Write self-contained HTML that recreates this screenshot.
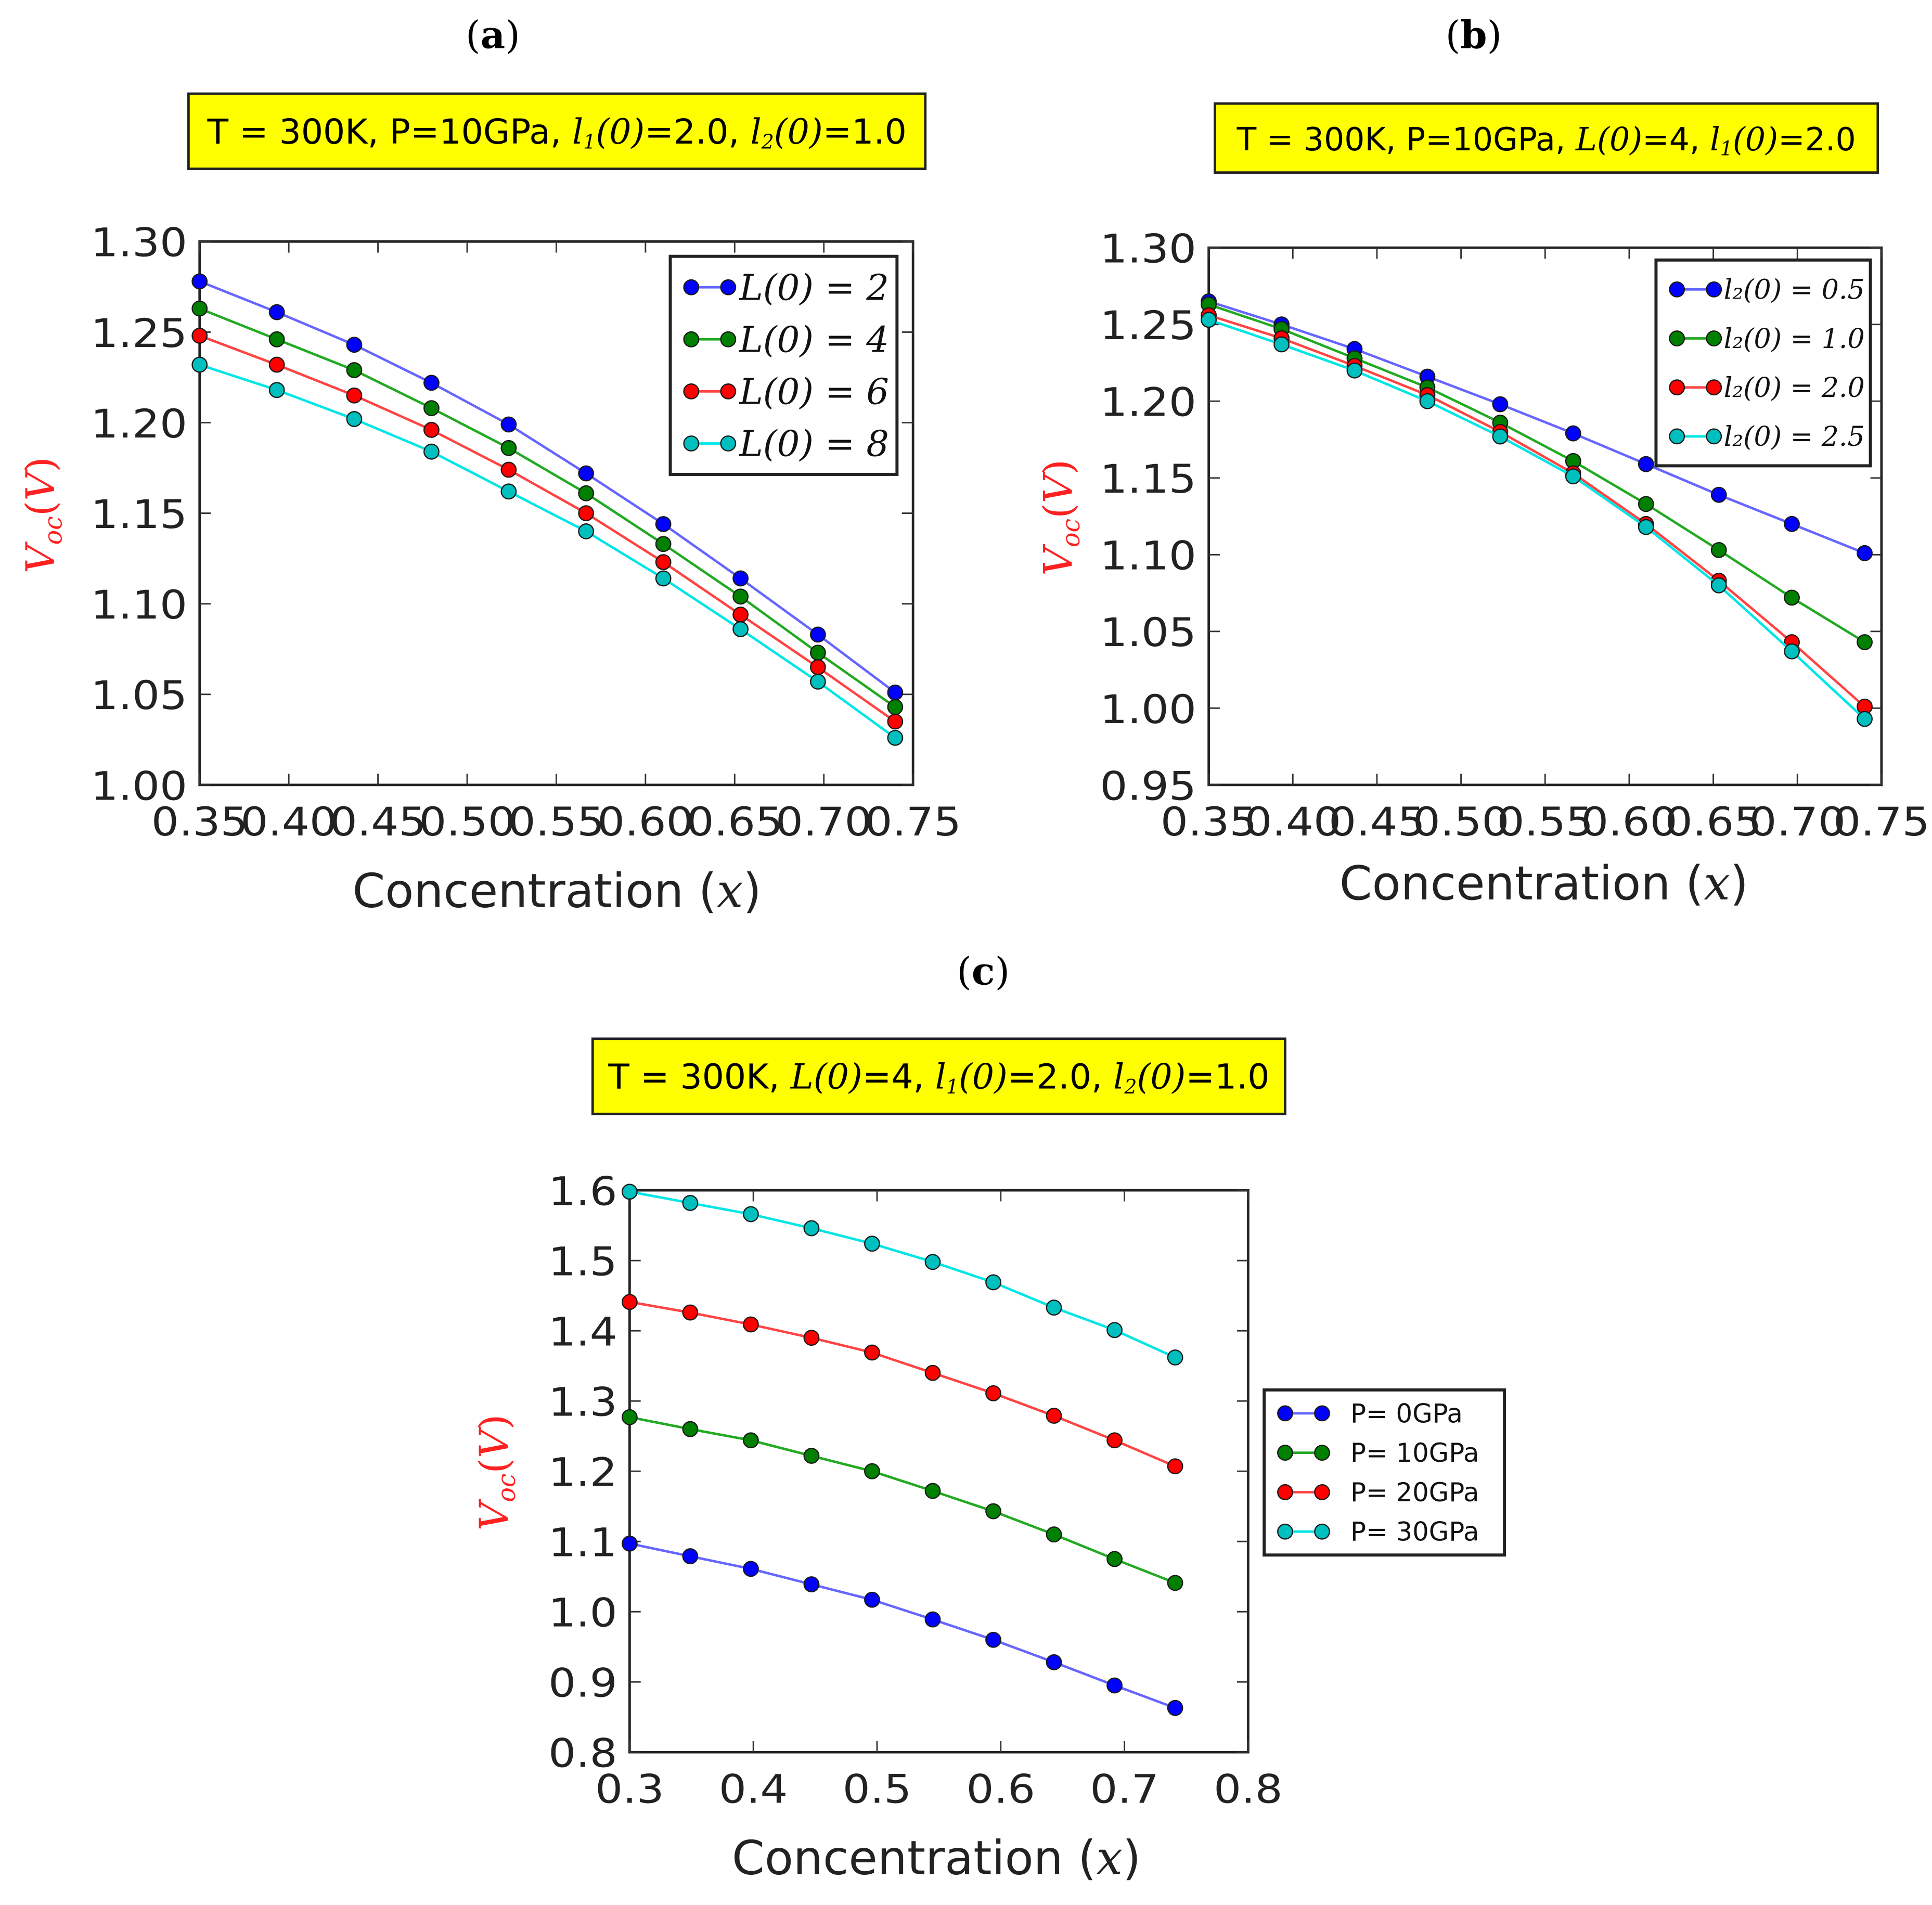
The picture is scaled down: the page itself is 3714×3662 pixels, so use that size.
<!DOCTYPE html>
<html><head><meta charset="utf-8">
<style>
html,body{margin:0;padding:0;background:#fff;}
svg{display:block;}
text{font-family:"DejaVu Sans","Liberation Sans",sans-serif;}
.serif{font-family:"DejaVu Serif","Liberation Serif",serif;}
</style></head>
<body>
<svg id="fig" width="3714" height="3662" viewBox="0 0 1568 1546" xmlns="http://www.w3.org/2000/svg">
<rect width="1568" height="1546" fill="#fff"/>
</svg>
<script>
// Panel (a)
const aX = [0.35,0.3933,0.4367,0.48,0.5233,0.5667,0.61,0.6533,0.6967,0.74];
const aL2 = [1.278,1.261,1.243,1.222,1.199,1.172,1.144,1.114,1.083,1.051];
const aL4 = [1.263,1.246,1.229,1.208,1.186,1.161,1.133,1.104,1.073,1.043];
const aL6 = [1.248,1.232,1.215,1.196,1.174,1.150,1.123,1.094,1.065,1.035];
const aL8 = [1.232,1.218,1.202,1.184,1.162,1.140,1.114,1.086,1.057,1.026];
const aYTicks = ["1.00","1.05","1.10","1.15","1.20","1.25","1.30"];
const aXTicks = ["0.35","0.40","0.45","0.50","0.55","0.60","0.65","0.70","0.75"];
const aLegend = ["L(0)  =  2","L(0)  =  4","L(0) = 6","L(0) = 8"];
// Panel (b)
const bX = aX;
const bL05 = [1.265,1.250,1.234,1.216,1.198,1.179,1.159,1.139,1.120,1.101];
const bL10 = [1.263,1.247,1.228,1.209,1.186,1.161,1.133,1.103,1.072,1.043];
const bL20 = [1.256,1.241,1.223,1.204,1.180,1.153,1.120,1.083,1.043,1.001];
const bL25 = [1.253,1.237,1.220,1.200,1.177,1.151,1.118,1.080,1.037,0.993];
const bYTicks = ["0.95","1.00","1.05","1.10","1.15","1.20","1.25","1.30"];
const bXTicks = aXTicks;
const bLegend = ["l\u2082(0)  =  0.5","l\u2082(0)  =  1.0","l\u2082(0) = 2.0","l\u2082(0) = 2.5"];
// Panel (c)
const cX = [0.3,0.349,0.398,0.447,0.496,0.545,0.594,0.643,0.692,0.741];
const cP0 = [1.097,1.079,1.061,1.039,1.017,0.989,0.960,0.928,0.895,0.863];
const cP10 = [1.277,1.260,1.244,1.222,1.200,1.172,1.143,1.110,1.075,1.041];
const cP20 = [1.441,1.426,1.409,1.390,1.369,1.340,1.311,1.279,1.244,1.207];
const cP30 = [1.598,1.582,1.566,1.546,1.524,1.498,1.469,1.433,1.401,1.362];
const cYTicks = ["0.8","0.9","1.0","1.1","1.2","1.3","1.4","1.5","1.6"];
const cXTicks = ["0.3","0.4","0.5","0.6","0.7","0.8"];
const cLegend = ["P= 0GPa","P= 10GPa","P= 20GPa","P= 30GPa"];

const COLORS = ["#0000ff","#008000","#ff0000","#00bfbf"];
const LINECOL = ["#6666ff","#22aa22","#ff4444","#00e5e5"];
const NS = "http://www.w3.org/2000/svg";
const fig = document.getElementById("fig");
function mk(tag, attrs, parent, txt){
  const e = document.createElementNS(NS, tag);
  for (const k in attrs) e.setAttribute(k, attrs[k]);
  if (txt !== undefined) e.textContent = txt;
  (parent||fig).appendChild(e);
  return e;
}
function panel(p){
  const g = mk("g", {});
  
  
  const sx = v => p.L + (v - p.x0) / (p.x1 - p.x0) * (p.R - p.L);
  const sy = v => p.B - (v - p.y0) / (p.y1 - p.y0) * (p.B - p.T);
  const lt = mk("text", {x:p.letterX, y:p.letterY, "font-size":31, "text-anchor":"middle", class:"serif"}, g);
  
  
  lt.innerHTML = '(<tspan font-weight="bold">' + p.letter + '</tspan>)';
  const tb = mk("rect", {x:p.tb[0], y:p.tb[1], width:p.tb[2]-p.tb[0], height:p.tb[3]-p.tb[1], fill:"#ffff00", stroke:"#222", "stroke-width":2}, g);
  
  
  const tt = mk("text", {x:(p.tb[0]+p.tb[2])/2, y:(p.tb[1]+p.tb[3])/2+10, "font-size":p.titleFont, "text-anchor":"middle"}, g);
  
  
  tt.innerHTML = p.title;
  const fr = mk("rect", {x:p.L, y:p.T, width:p.R-p.L, height:p.B-p.T, fill:"none", stroke:"#222", "stroke-width":2}, g);
  
  
  p.yTicks.forEach(t => {
    const y = sy(parseFloat(t));
    mk("line", {x1:p.L, x2:p.L+9, y1:y, y2:y, stroke:"#333", "stroke-width":1.2}, g);
    mk("line", {x1:p.R, x2:p.R-9, y1:y, y2:y, stroke:"#333", "stroke-width":1.2}, g);
    const tx = mk("text", {x:0, y:0, "font-size":32, "text-anchor":"end", fill:"#222", transform:"translate("+(p.L-10)+","+(y+12)+") scale(1.1,1)"}, g, t);
    
    
  });
  p.xTicks.forEach(t => {
    const x = sx(parseFloat(t));
    mk("line", {x1:x, x2:x, y1:p.B, y2:p.B-9, stroke:"#333", "stroke-width":1.2}, g);
    mk("line", {x1:x, x2:x, y1:p.T, y2:p.T+9, stroke:"#333", "stroke-width":1.2}, g);
    const tx = mk("text", {x:0, y:0, "font-size":32, "text-anchor":"middle", fill:"#222", transform:"translate("+x+","+(p.B+41)+") scale(1.1,1)"}, g, t);
    
    
  });
  const xt = mk("text", {x:p.xlX, y:p.xlY, "font-size":38, "text-anchor":"middle", fill:"#222"}, g);
  
  
  xt.innerHTML = 'Concentration (<tspan class="serif" font-style="italic">x</tspan>)';
  const yt = mk("text", {x:0, y:0, "font-size":32, "text-anchor":"middle", fill:"#ff2020", class:"serif", transform:"translate("+p.ylX+","+p.ylY+") rotate(-90)"}, g);
  
  
  yt.innerHTML = '<tspan font-style="italic">V</tspan><tspan font-size="20" dy="6" font-style="italic">oc</tspan><tspan dy="-6">(</tspan><tspan font-style="italic">V</tspan>)';
  p.series.forEach((s, i) => {
    const sg = mk("g", {}, g);
    
    
    const pts = s.map((v, j) => sx(p.xs[j]).toFixed(1) + "," + sy(v).toFixed(1)).join(" ");
    const pl = mk("polyline", {points:pts, fill:"none", stroke:LINECOL[i], "stroke-width":2}, sg);
    
    
    s.forEach((v, j) => {
      const c = mk("circle", {cx:sx(p.xs[j]), cy:sy(v), r:6, fill:COLORS[i], stroke:"#1a1a1a", "stroke-width":1}, sg);
      
      
    });
  });
  const lb = p.leg;
  const lg = mk("g", {}, g);
  
  
  mk("rect", {x:lb[0], y:lb[1], width:lb[2]-lb[0], height:lb[3]-lb[1], fill:"#fff", stroke:"#222", "stroke-width":2.5}, lg);
  const step = (lb[3]-lb[1]-2*p.legPad) / 4;
  p.legend.forEach((t, i) => {
    const y = lb[1] + p.legPad + step*(i+0.5);
    const e = mk("g", {}, lg);
    
    
    mk("line", {x1:lb[0]+17, x2:lb[0]+47, y1:y, y2:y, stroke:LINECOL[i], "stroke-width":2}, e);
    mk("circle", {cx:lb[0]+17, cy:y, r:6, fill:COLORS[i], stroke:"#1a1a1a", "stroke-width":1}, e);
    mk("circle", {cx:lb[0]+47, cy:y, r:6, fill:COLORS[i], stroke:"#1a1a1a", "stroke-width":1}, e);
    mk("text", {x:lb[0]+p.legTextX, y:y+p.legFont*0.35, "font-size":p.legFont, fill:"#111", class:p.legSerif?"serif":"", "font-style":p.legSerif?"italic":"normal"}, e, t);
  });
}
const it = s => '<tspan class="serif" font-style="italic">' + s + '</tspan>';
panel({name:"panel-a", letter:"a", letterX:400, letterY:39, titleFont:28,
  tb:[153,76,751,137], title:"T = 300K, P=10GPa, "+it("l<tspan font-size='16' dy='4'>1</tspan><tspan dy='-4'>(0)</tspan>")+"=2.0, "+it("l<tspan font-size='16' dy='4'>2</tspan><tspan dy='-4'>(0)</tspan>")+"=1.0",
  L:162, R:741, T:196, B:637, x0:0.35, x1:0.75, y0:1.0, y1:1.30,
  xs:aX, series:[aL2,aL4,aL6,aL8], seriesNames:["l0-2","l0-4","l0-6","l0-8"],
  yTicks:aYTicks, xTicks:aXTicks, xlX:452, xlY:736, ylX:44, ylY:418,
  leg:[544,208,728,385], legPad:4, legend:aLegend, legTextX:56, legFont:29, legSerif:true});
panel({name:"panel-b", letter:"b", letterX:1196, letterY:39, titleFont:26,
  tb:[986,84,1524,140], title:"T = 300K, P=10GPa, "+it("L(0)")+"=4, "+it("l<tspan font-size='16' dy='4'>1</tspan><tspan dy='-4'>(0)</tspan>")+"=2.0",
  L:981, R:1527, T:201, B:637, x0:0.35, x1:0.75, y0:0.95, y1:1.30,
  xs:bX, series:[bL05,bL10,bL20,bL25], seriesNames:["l2-0.5","l2-1.0","l2-2.0","l2-2.5"],
  yTicks:bYTicks, xTicks:bXTicks, xlX:1253, xlY:730, ylX:870, ylY:420,
  leg:[1344,211,1518,378], legPad:4, legend:bLegend, legTextX:55, legFont:22, legSerif:true});
panel({name:"panel-c", letter:"c", letterX:798, letterY:799, titleFont:28,
  tb:[481,843,1043,904], title:"T = 300K, "+it("L(0)")+"=4, "+it("l<tspan font-size='16' dy='4'>1</tspan><tspan dy='-4'>(0)</tspan>")+"=2.0, "+it("l<tspan font-size='16' dy='4'>2</tspan><tspan dy='-4'>(0)</tspan>")+"=1.0",
  L:511, R:1013, T:966, B:1422, x0:0.3, x1:0.8, y0:0.8, y1:1.6,
  xs:cX, series:[cP0,cP10,cP20,cP30], seriesNames:["p-0","p-10","p-20","p-30"],
  yTicks:cYTicks, xTicks:cXTicks, xlX:760, xlY:1521, ylX:412, ylY:1195,
  leg:[1026,1128,1221,1262], legPad:3, legend:cLegend, legTextX:70, legFont:21, legSerif:false});
</script>
</body></html>
